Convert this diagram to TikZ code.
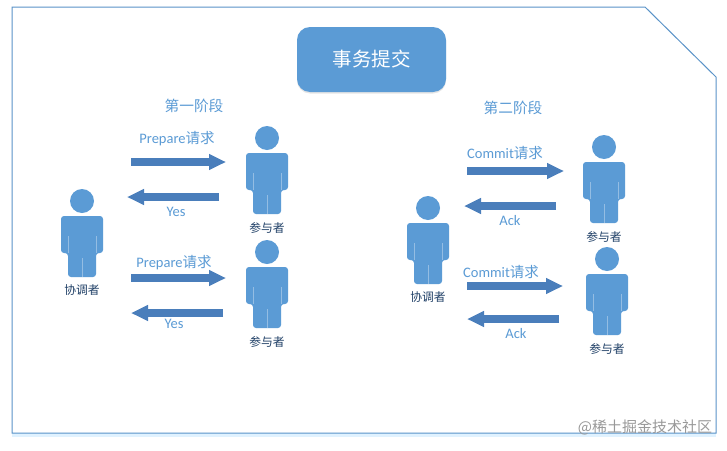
\documentclass[tikz,border=0pt]{standalone}
\usepackage{fontspec}
\setmainfont{Carlito}
\newfontfamily\cjk{Noto Sans CJK SC}
\usepackage{xcolor}
\usetikzlibrary{arrows.meta}
\usetikzlibrary{shadows}
\definecolor{officeblue}{HTML}{5B9BD5}
\definecolor{frameblue}{HTML}{5A93C8}
\definecolor{arrowblue}{HTML}{4A7EBB}
\definecolor{namedark}{HTML}{1F3F66}
\tikzset{
  blockarrow/.style={arrowblue, line width=8pt, -{Triangle[width=15pt,length=17pt]}},
  phase/.style={text=officeblue, font=\cjk\fontsize{14.7}{16}\selectfont, inner sep=0},
  msg/.style={text=officeblue, font=\fontsize{14.5}{16}\selectfont, inner sep=0},
  role/.style={text=namedark, font=\cjk\fontsize{11.8}{13}\selectfont, inner sep=0},
  person/.pic={
    \fill[officeblue] (0,0) circle (12);
    \fill[officeblue, rounded corners=3] (-21,15)--(21,15)--(21,52)--(14,52)--(14,76)--(-14,76)--(-14,52)--(-21,52)--cycle;
    \fill[officeblue] (-14,40) rectangle (14,60);
    \draw[white, opacity=.35, thin] (-14,35)--(-14,52) (14,35)--(14,52) (0,57)--(0,76);
  }
}
\begin{document}
\begin{tikzpicture}[x=1pt, y=-1pt]
\useasboundingbox (0,0) rectangle (727,450);
\fill[white] (0,0) rectangle (727,450);
% frame
\draw[blue!40!cyan, opacity=.12, line width=4pt] (12,435)--(716,435);
\draw[frameblue, line width=1pt] (12,7)--(645,7)--(716,77)--(716,433)--(12,433)--cycle;
% title
\node[name=title, fill=officeblue, rounded corners=13, minimum width=149pt, minimum height=65pt, inner sep=0, text=white, font=\cjk\fontsize{19.5}{22}\selectfont, drop shadow={opacity=.2, shadow xshift=0pt, shadow yshift=-1.5pt}] at (371.5,59.5) {事务提交};
\node[phase] (phaseone) at (194,106) {第一阶段};
\node[phase] (phasetwo) at (513,108) {第二阶段};
% people
\foreach \n/\x/\y/\who in {c1/82/201/协调者, p1/267/138/参与者, p2/267/252/参与者, c2/428/208/协调者, p3/604/147/参与者, p4/607/259/参与者} {
 \pic (\n) at (\x,\y) {person};
 \node[role] (name\n) at (\x,\y+89.5) {\who};
}
% arrows
\foreach \n/\xa/\xb/\y in {1/131/226/162, 2/219/127/197, 3/131/226/278, 4/223/131/313, 5/467/564/171, 6/556/464/206, 7/467/563/286, 8/559/467/319} {
 \coordinate (from\n) at (\xa,\y);
 \coordinate (to\n) at (\xb,\y);
 \draw[blockarrow] (from\n)--(to\n);
}
% labels
\foreach \n/\x/\y/\txt in {a/177/139/Prepare, b/174/263/Prepare, c/505/153/Commit, d/501/272/Commit} {
 \node[msg] (msg\n) at (\x,\y) {\txt{\cjk 请求}};
}
\foreach \n/\x/\y/\txt in {e/176/212/Yes, f/174/324/Yes, g/510/221/Ack, h/516/334/Ack} {
 \node[msg] (msg\n) at (\x,\y) {\txt};
}
\node[text=gray!80, font=\cjk\fontsize{15}{17}\selectfont, inner sep=0] (mark) at (645,427) {@稀土掘金技术社区};
\end{tikzpicture}
\end{document}
